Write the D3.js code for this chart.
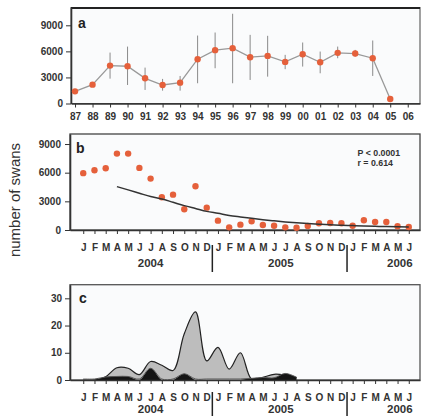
<!DOCTYPE html>
<html>
<head>
<meta charset="utf-8">
<script src="https://cdn.jsdelivr.net/npm/d3@7"></script>
<style>
*{margin:0;padding:0}
body{background:#fff;width:421px;height:416px;overflow:hidden}
svg{display:block;font-family:"Liberation Sans",Arial,sans-serif}
.tick text{font-weight:bold;fill:#333;font-size:10px}
.axis path,.axis line{stroke:#333}
</style>
</head>
<body>
<svg id="chart" width="421" height="416"></svg>
<script>
// panel a: yearly counts 1987-2006
var years = ["87","88","89","90","91","92","93","94","95","96","97","98","99","00","01","02","03","04","05","06"];
var yearMean = [1400,2170,4360,4290,2900,2130,2400,5100,6140,6370,5330,5480,4790,5670,4750,5830,5750,5210,520,null];
var yearLow  = [null,null,2860,2130,1560,1480,1480,2330,4060,2330,2710,3090,3950,4250,3480,5210,5400,3170,null,null];
var yearHigh = [null,null,5860,6550,4130,2830,3170,7820,8170,10330,7900,7790,5600,7020,5980,6550,6170,7250,null,null];
var yTicksA = [0,3000,6000,9000];

// panel b: monthly counts Jan 2004 - Jun 2006
var months = ["J","F","M","A","M","J","J","A","S","O","N","D",
              "J","F","M","A","M","J","J","A","S","O","N","D",
              "J","F","M","A","M","J"];
var monthCounts = [5950,6260,6470,8000,8000,6500,5380,3430,3700,2170,4580,2340,
                   980,280,560,910,520,450,280,240,420,700,730,700,
                   450,1020,840,840,390,310];
// fitted decay curve, Apr 2004 onwards
var trendStart = 3;
var trendValues = [4540,4200,3850,3500,3250,2900,2550,2250,1950,
                   1750,1530,1370,1220,1080,960,850,760,680,610,550,500,
                   460,420,390,360,340,320];
var yTicksB = [0,3000,6000,9000];
var statText = ["P < 0.0001","r = 0.614"];

// panel c: outbreaks Jan 2004 - Aug 2005
var outbreakAll   = [0,0,1.2,4.5,4.3,2,6.8,5.4,3.5,17,25,7,12,4,10,0.3,1,2.1,1.8,0.9];
var outbreakBlack = [0,0,1.1,1.3,1.3,0,4.3,0,0,2.3,0,0,0,0,0,0.6,0.9,0.8,2.4,1];
var yTicksC = [0,10,20,30];

var yearNames = ["2004","2005","2006"];
var yearNameAt = [6,17.6,28.2];
var yearBreaks = [11.5,23.5];

var svg = d3.select("#chart");
var dotColor = "#e5603b";
var plotBg = "#fafbfc";
var fmt = d3.format("d");

// ---------- panel a ----------
var xa = d3.scaleLinear().domain([-0.23, 19.7]).range([71, 420]);
var ya = d3.scaleLinear().domain([0, 11050]).range([103.5, 7.5]);

svg.append("rect").attr("x",71).attr("y",7.5).attr("width",349).attr("height",96)
	.attr("fill",plotBg).attr("stroke","#444").attr("stroke-width",1);
svg.append("line").attr("x1",71).attr("x2",420).attr("y1",8).attr("y2",8)
	.attr("stroke","#222").attr("stroke-width",2.2);

svg.append("g").attr("class","axis").attr("transform","translate(71,0)")
	.call(d3.axisLeft(ya).tickValues(yTicksA).tickFormat(fmt).tickSize(5).tickPadding(3).tickSizeOuter(0))
	.select(".domain").attr("stroke-width",1.6);
svg.append("g").attr("class","axis").attr("transform","translate(0,103.5)")
	.call(d3.axisBottom(xa).tickValues(d3.range(years.length))
		.tickFormat(function(i){ return years[i]; }).tickSize(4).tickPadding(5.4).tickSizeOuter(0))
	.select(".domain").attr("stroke-width",1.6);

var gA = svg.append("g");
gA.selectAll(".err").data(d3.range(years.length).filter(function(i){ return yearLow[i] != null; }))
	.enter().append("line")
	.attr("x1",xa).attr("x2",xa)
	.attr("y1",function(i){ return ya(yearLow[i]); })
	.attr("y2",function(i){ return ya(yearHigh[i]); })
	.attr("stroke","#8a8a8a").attr("stroke-width",1);
gA.append("path")
	.datum(d3.range(years.length))
	.attr("d", d3.line().defined(function(i){ return yearMean[i] != null; })
		.x(xa).y(function(i){ return ya(yearMean[i]); }))
	.attr("fill","none").attr("stroke","#999").attr("stroke-width",1.3);
gA.selectAll("circle").data(d3.range(years.length).filter(function(i){ return yearMean[i] != null; }))
	.enter().append("circle")
	.attr("cx",xa).attr("cy",function(i){ return ya(yearMean[i]); })
	.attr("r",3.2).attr("fill",dotColor);
svg.append("text").attr("x",78).attr("y",28).text("a")
	.attr("font-size",14).attr("font-weight","bold").attr("fill","#222");

// ---------- panel b ----------
var xb = d3.scaleLinear().domain([-1.18, 30.0]).range([70, 420]);
var yb = d3.scaleLinear().domain([0, 10050]).range([230, 134]);

svg.append("rect").attr("x",70).attr("y",134).attr("width",350).attr("height",96)
	.attr("fill",plotBg).attr("stroke","#444").attr("stroke-width",1.3);
svg.append("g").attr("class","axis").attr("transform","translate(70,0)")
	.call(d3.axisLeft(yb).tickValues(yTicksB).tickFormat(fmt).tickSize(5).tickPadding(4).tickSizeOuter(0))
	.select(".domain").attr("stroke-width",1.6);
svg.append("g").attr("class","axis").attr("transform","translate(0,230)")
	.call(d3.axisBottom(xb).tickValues(d3.range(months.length))
		.tickFormat(function(i){ return months[i]; }).tickSize(4).tickPadding(9.6).tickSizeOuter(0))
	.select(".domain").attr("stroke-width",1.6);

svg.append("g").selectAll("circle").data(d3.range(months.length))
	.enter().append("circle")
	.attr("cx",xb).attr("cy",function(i){ return yb(monthCounts[i]); })
	.attr("r",3.2).attr("fill",dotColor);
svg.append("path")
	.datum(d3.range(trendValues.length))
	.attr("d", d3.line().curve(d3.curveMonotoneX)
		.x(function(i){ return xb(i + trendStart); })
		.y(function(i){ return yb(trendValues[i]); }))
	.attr("fill","none").attr("stroke","#333").attr("stroke-width",1.5);

svg.append("text").attr("x",76).attr("y",153).text("b")
	.attr("font-size",14).attr("font-weight","bold").attr("fill","#222");
svg.selectAll(".stat").data(statText).enter().append("text")
	.attr("x",357.5).attr("y",function(d,i){ return 155.7 + i*9.8; })
	.text(function(d){ return d; })
	.attr("font-size",8.8).attr("font-weight","bold").attr("fill","#333");

function yearRow(xs, yText, sepTop, sepBottom){
	svg.selectAll(null).data(yearNames).enter().append("text")
		.attr("x",function(d,i){ return xs(yearNameAt[i]); }).attr("y",yText)
		.attr("text-anchor","middle").attr("font-size",11.5).attr("font-weight","bold").attr("fill","#333")
		.text(function(d){ return d; });
	svg.selectAll(null).data(yearBreaks).enter().append("line")
		.attr("x1",xs).attr("x2",xs).attr("y1",sepTop).attr("y2",sepBottom)
		.attr("stroke","#222").attr("stroke-width",1.5);
}
yearRow(xb, 267.3, 245, 272);

// ---------- panel c ----------
var yc = d3.scaleLinear().domain([0,35]).range([380, 284.7]);

svg.append("rect").attr("x",70).attr("y",284.7).attr("width",350).attr("height",95.3)
	.attr("fill",plotBg).attr("stroke","#555").attr("stroke-width",1.3);
svg.append("clipPath").attr("id","clipC").append("rect")
	.attr("x",70).attr("y",284.7).attr("width",350).attr("height",95.3);

var idxC = d3.range(outbreakAll.length);
var smooth = d3.curveCatmullRom.alpha(0.5);
var gC = svg.append("g").attr("clip-path","url(#clipC)");
gC.append("path").datum(idxC)
	.attr("d", d3.area().curve(smooth).x(xb).y0(yc(0))
		.y1(function(i){ return yc(outbreakAll[i]); }))
	.attr("fill","#bdbdbd");
gC.append("path").datum(idxC)
	.attr("d", d3.line().curve(smooth).x(xb)
		.y(function(i){ return yc(outbreakAll[i]); }))
	.attr("fill","none").attr("stroke","#222").attr("stroke-width",1.2);
gC.append("path").datum(idxC)
	.attr("d", d3.area().curve(smooth).x(xb).y0(yc(0))
		.y1(function(i){ return yc(outbreakBlack[i]); }))
	.attr("fill","#151515");
gC.append("path").datum(idxC)
	.attr("d", d3.line().curve(smooth).x(xb)
		.y(function(i){ return Math.min(yc(outbreakBlack[i]), yc(0) - 1); }))
	.attr("fill","none").attr("stroke","#555").attr("stroke-width",1);

svg.append("g").attr("class","axis").attr("transform","translate(70,0)")
	.call(d3.axisLeft(yc).tickValues(yTicksC).tickSize(5).tickPadding(3).tickSizeOuter(0))
	.select(".domain").attr("stroke-width",1.6);
svg.append("g").attr("class","axis").attr("transform","translate(0,380)")
	.call(d3.axisBottom(xb).tickValues(d3.range(months.length))
		.tickFormat(function(i){ return months[i]; }).tickSize(4).tickPadding(9.9).tickSizeOuter(0))
	.select(".domain").attr("stroke-width",1.6);
svg.append("text").attr("x",79).attr("y",303).text("c")
	.attr("font-size",14).attr("font-weight","bold").attr("fill","#222");
yearRow(xb, 412.5, 392, 416);

// shared y label
svg.append("text").attr("transform","translate(20,200) rotate(-90)")
	.attr("text-anchor","middle").attr("font-size",15).attr("fill","#333")
	.text("number of swans");
</script>
</body>
</html>
